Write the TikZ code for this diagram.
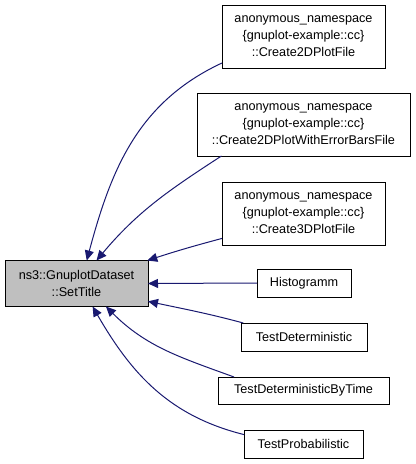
\documentclass[tikz,border=0pt]{standalone}
\usepackage{fontspec}
\setmainfont{Liberation Sans}
\usepackage{xcolor}
\usetikzlibrary{shapes,arrows,positioning,calc,arrows.meta}
\definecolor{edgeblue}{HTML}{191970}
\begin{document}
\begin{tikzpicture}[x=0.75pt, y=0.75pt, outer sep=0pt,
    box/.style={draw, rectangle, line width=0.75pt, inner sep=0pt, align=center, font=\fontsize{9.5}{12.75}\selectfont},
    call/.style={draw=edgeblue, line width=0.75pt, -{Triangle[length=7.5pt, width=6.75pt]}, fill=none}]
    \useasboundingbox (0,0) rectangle (416,-464);
    \node [box, minimum width=107.25pt, minimum height=34.5pt, fill=black!25] (M) at (76.5,-283.5) {ns3::GnuplotDataset\\::SetTitle};
    \node [box, minimum width=122.25pt, minimum height=47.25pt] (C2) at (303.5,-36.5) {anonymous\_namespace\\\{gnuplot-example::cc\}\\::Create2DPlotFile};
    \node [box, minimum width=159.75pt, minimum height=47.25pt] (CE) at (303.5,-124.5) {anonymous\_namespace\\\{gnuplot-example::cc\}\\::Create2DPlotWithErrorBarsFile};
    \node [box, minimum width=122.25pt, minimum height=47.25pt] (C3) at (303.5,-213.5) {anonymous\_namespace\\\{gnuplot-example::cc\}\\::Create3DPlotFile};
    \node [box, minimum width=70.5pt, minimum height=21pt] (H) at (304,-283) {Histogramm};
    \node [box, minimum width=94.5pt, minimum height=21pt] (TD) at (304,-337) {TestDeterministic};
    \node [box, minimum width=128.25pt, minimum height=20.25pt] (TT) at (303.5,-390.5) {TestDeterministicByTime};
    \node [box, minimum width=89.25pt, minimum height=21pt] (TP) at (303.5,-444) {TestProbabilistic};
    \draw [call] (C2.198) to[out=205, in=75] (M.66);
    \draw [call] (CE.201) to[out=213, in=50] (M.49);
    \draw [call] (C3.197) to[out=195, in=18] (M.18);
    \draw [call] (H.west) -- (M.east);
    \draw [call] (TD.167) to[out=165, in=-12] (M.-14);
    \draw [call] (TT.169) to[out=160, in=-45] (M.-38);
    \draw [call] (TP.171) to[out=166, in=-60] (M.-55);
\end{tikzpicture}
\end{document}
